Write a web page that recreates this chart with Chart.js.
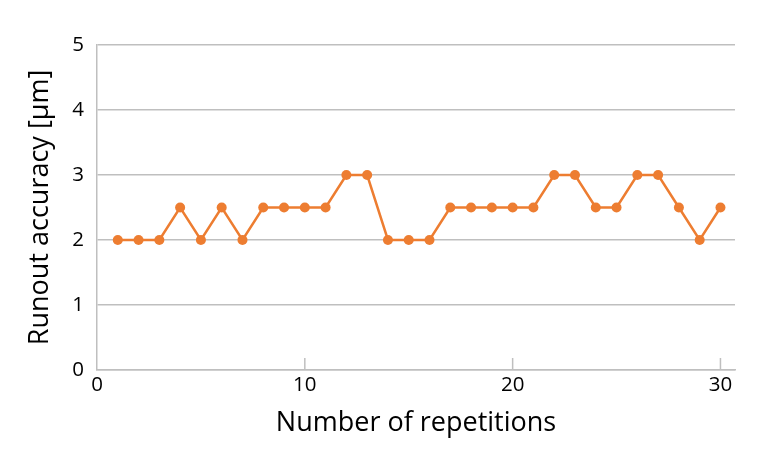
<!DOCTYPE html>
<html>
<head>
<meta charset="utf-8">
<script src="https://cdn.jsdelivr.net/npm/chart.js@4"></script>
<style>
  html, body { margin: 0; padding: 0; background: #fff; }
  #wrap { width: 768px; height: 460px; }
</style>
</head>
<body>
<div id="wrap"><canvas id="myChart"></canvas></div>
<script>
// repetition number (x) and runout accuracy in µm (y)
const repetitions = [1, 2, 3, 4, 5, 6, 7, 8, 9, 10, 11, 12, 13, 14, 15, 16, 17, 18, 19, 20, 21, 22, 23, 24, 25, 26, 27, 28, 29, 30];
const accuracy = [2, 2, 2, 2.5, 2, 2.5, 2, 2.5, 2.5, 2.5, 2.5, 3, 3, 2, 2, 2, 2.5, 2.5, 2.5, 2.5, 2.5, 3, 3, 2.5, 2.5, 3, 3, 2.5, 2, 2.5];
const xTicks = [0, 10, 20, 30];
const yTicks = [0, 1, 2, 3, 4, 5];

const gridColor = '#bfbfbf';
const fontFamily = "'Open Sans', 'Noto Sans', sans-serif";

// small tick marks pointing up into the plot at each x tick
const innerTicks = {
  id: 'innerTicks',
  afterDatasetsDraw(chart) {
    const { ctx, scales } = chart;
    const x = scales.x;
    const bottom = chart.chartArea.bottom;
    ctx.save();
    ctx.strokeStyle = gridColor;
    ctx.lineWidth = 1.5;
    xTicks.forEach((t) => {
      if (t === 0) return;
      const px = x.getPixelForValue(t);
      ctx.beginPath();
      ctx.moveTo(px, bottom);
      ctx.lineTo(px, bottom - 12);
      ctx.stroke();
    });
    ctx.restore();
  },
};

const ctx = document.getElementById('myChart').getContext('2d');
const chart = new Chart(ctx, {
  type: 'line',
  data: {
    datasets: [
      {
        data: repetitions.map((r, i) => ({ x: r, y: accuracy[i] })),
        borderColor: '#ed7d31',
        backgroundColor: '#ed7d31',
        borderWidth: 2.5,
        pointRadius: 5,
        pointBorderWidth: 0,
        tension: 0,
      },
    ],
  },
  options: {
    responsive: true,
    maintainAspectRatio: false,
    animation: false,
    layout: { padding: { top: 45, right: 33, left: 0, bottom: 0 } },
    plugins: { legend: { display: false }, tooltip: { enabled: false } },
    scales: {
      x: {
        type: 'linear',
        min: 0,
        max: 30.7,
        afterBuildTicks: (scale) => {
          scale.ticks = xTicks.map((v) => ({ value: v }));
        },
        afterFit: (scale) => {
          scale.height = 90;
        },
        grid: { display: false, drawTicks: false },
        border: { display: true, color: gridColor, width: 1.5 },
        ticks: {
          padding: 3,
          color: '#000',
          font: { family: fontFamily, size: 20.5 },
          maxRotation: 0,
        },
        title: {
          display: true,
          text: 'Number of repetitions',
          color: '#000',
          font: { family: fontFamily, size: 27 },
          padding: { top: 0, bottom: 20 },
        },
      },
      y: {
        min: 0,
        max: 5,
        afterBuildTicks: (scale) => {
          scale.ticks = yTicks.map((v) => ({ value: v }));
        },
        afterFit: (scale) => {
          scale.width = 97;
        },
        grid: { color: gridColor, lineWidth: 1.5, drawTicks: false },
        border: { display: true, color: gridColor, width: 1.5 },
        ticks: {
          padding: 13,
          color: '#000',
          font: { family: fontFamily, size: 20.5 },
        },
        title: {
          display: true,
          text: 'Runout accuracy [µm]',
          color: '#000',
          font: { family: fontFamily, size: 27 },
          padding: { top: 24, bottom: 0 },
        },
      },
    },
  },
  plugins: [innerTicks],
});
</script>
</body>
</html>
